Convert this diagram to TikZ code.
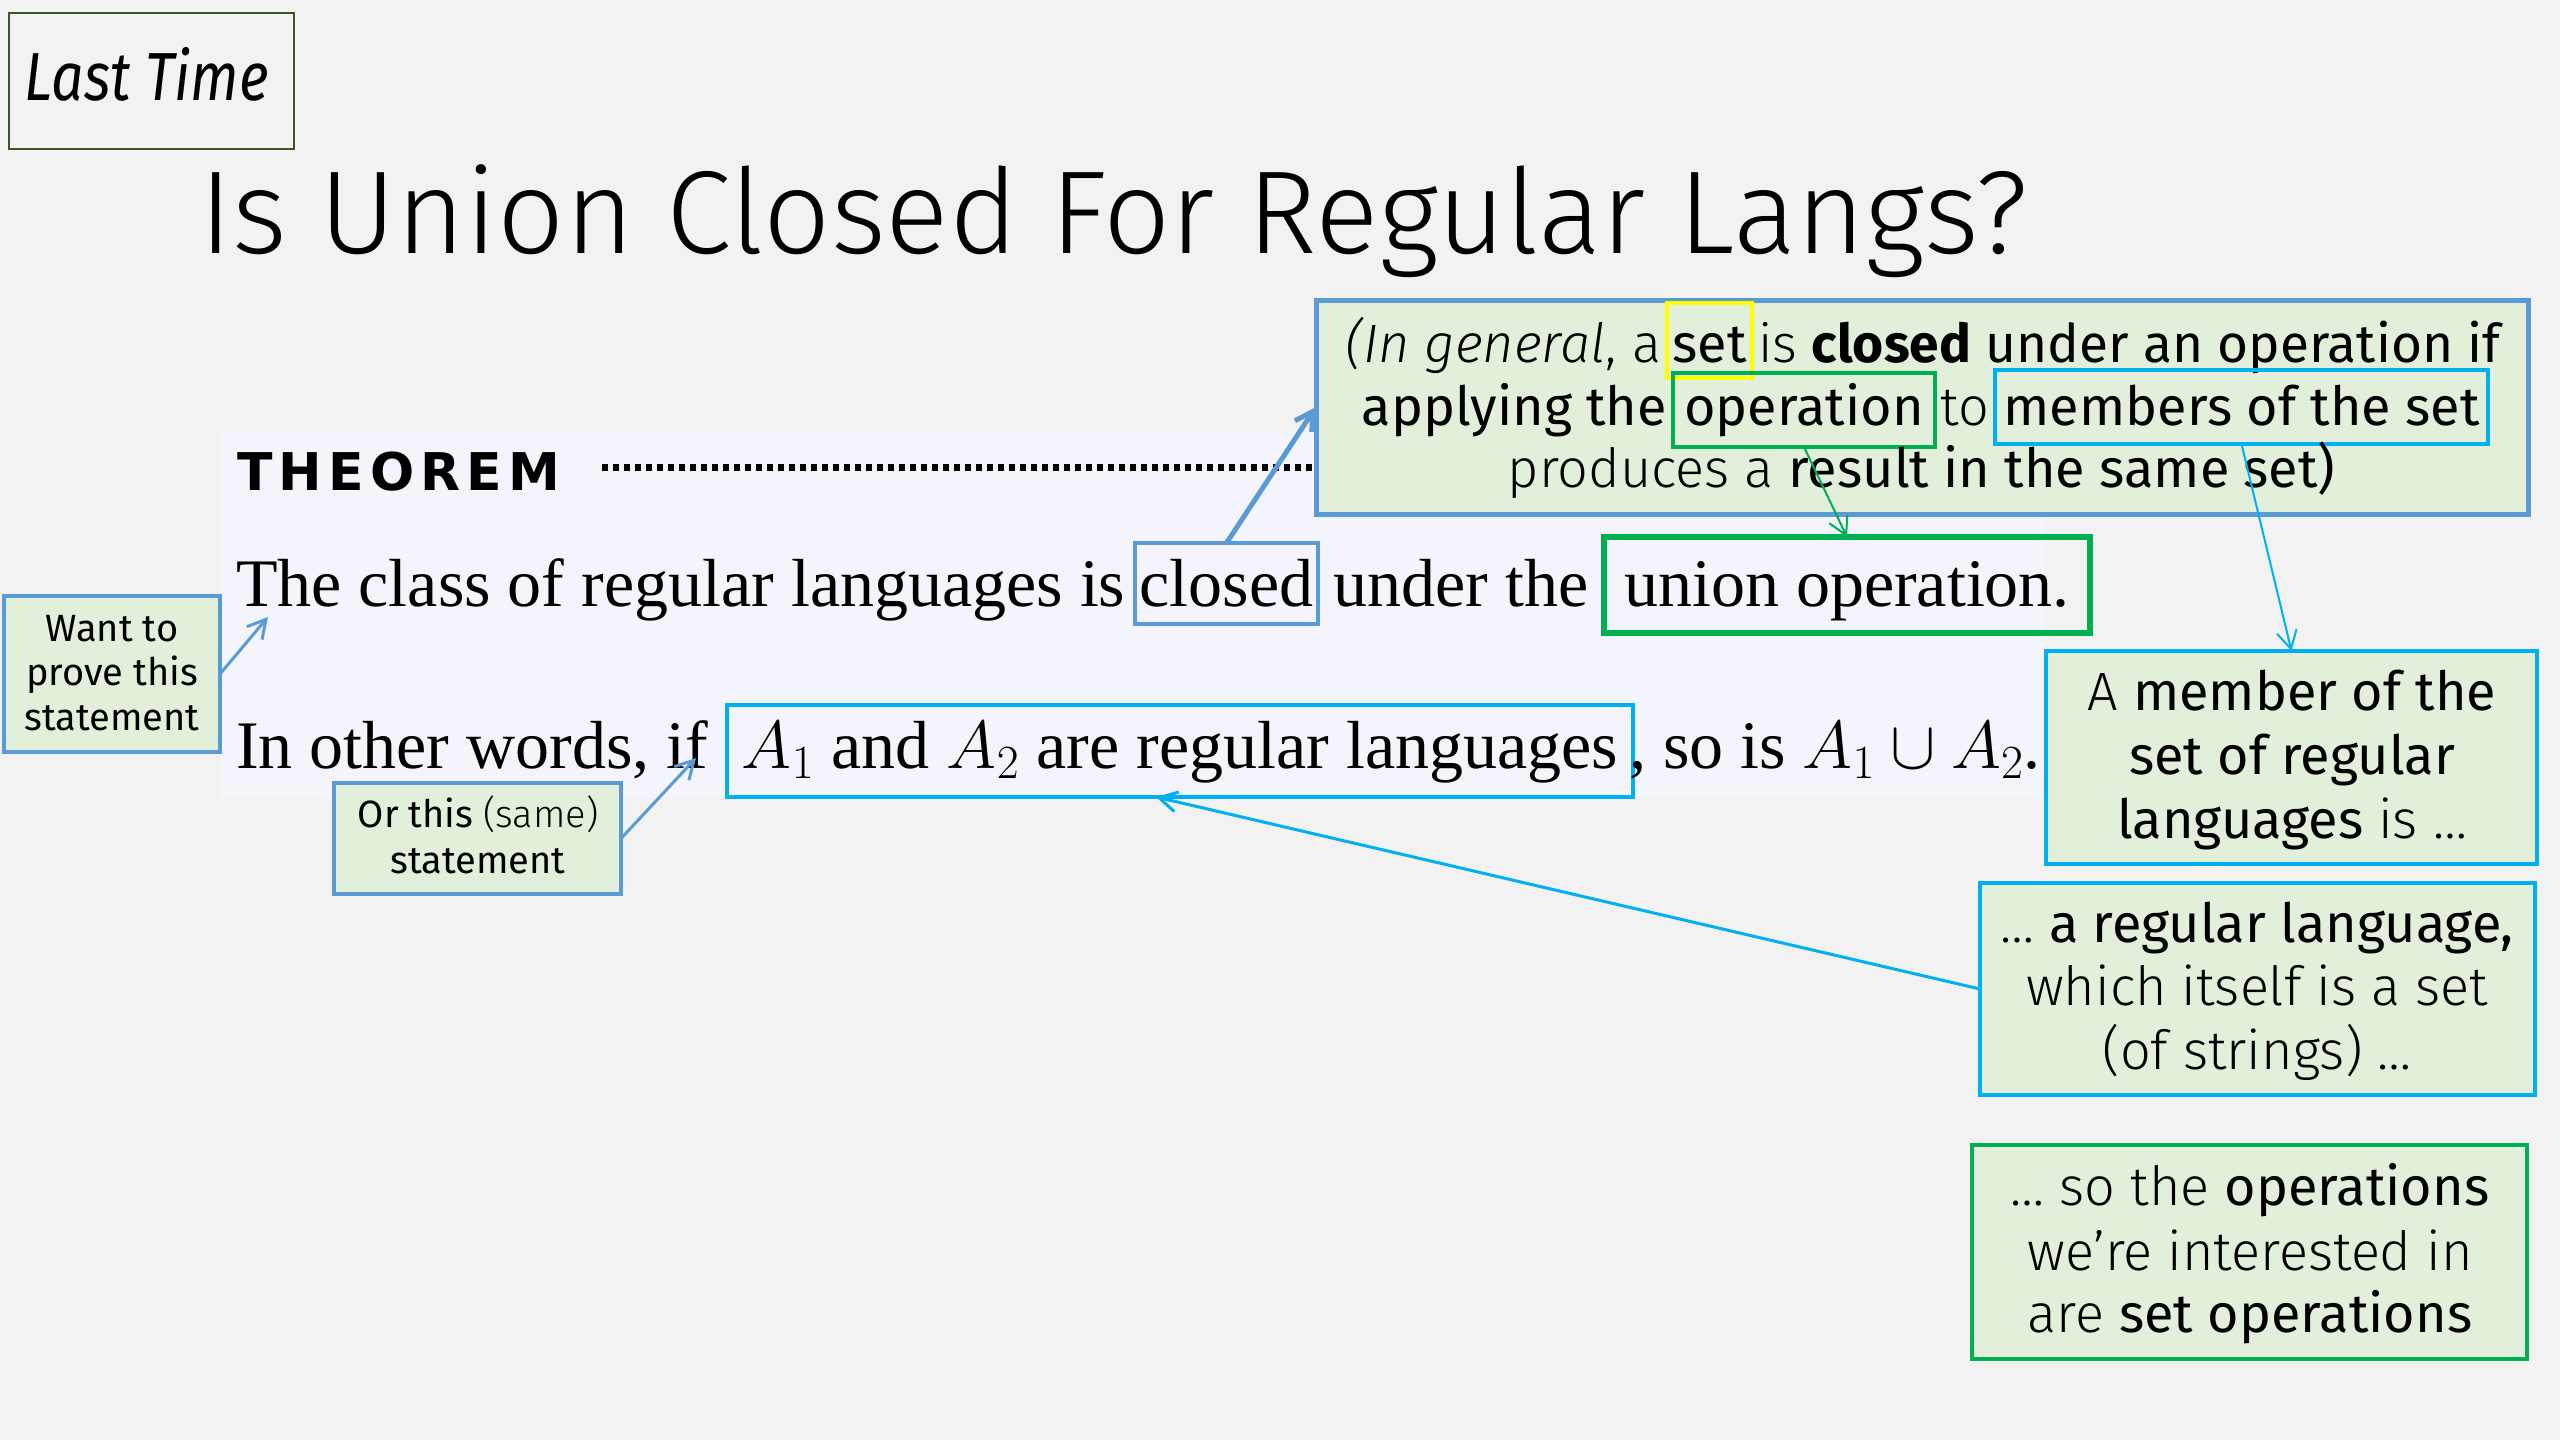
\RequirePackage{fix-cm}
\documentclass[tikz,border=0pt]{standalone}
\usepackage[no-math]{fontspec}
\usetikzlibrary{arrows.meta,calc}
\newfontfamily\fira{Fira Sans}
\IfFontExistsTF{FiraSans-Light}{%
  \IfFontExistsTF{FiraSans-LightItalic}%
    {\newfontfamily\firal{FiraSans-Light}[ItalicFont=FiraSans-LightItalic]}%
    {\newfontfamily\firal{FiraSans-Light}}%
}{\newfontfamily\firal{Fira Sans}}
\newfontfamily\serifx{Liberation Serif}
\newfontfamily\thmfont{DejaVu Sans}[LetterSpace=12]
\definecolor{bluebd}{HTML}{5B9BD5}
\definecolor{cyanbd}{HTML}{00B0F0}
\definecolor{greenbd}{HTML}{00B050}
\definecolor{yel}{HTML}{FFFF00}
\definecolor{calfill}{HTML}{E2EFDA}
\definecolor{panelc}{HTML}{F4F4FC}
\definecolor{bgc}{HTML}{F2F2F2}
\definecolor{ltbd}{HTML}{385723}
\newcommand{\thmtext}{\serifx\fontsize{34}{40}\selectfont}
\newcommand{\calA}{\fontsize{27}{32}\selectfont}
\newcommand{\calAr}{\fontsize{26.6}{32}\selectfont}
\newcommand{\calB}{\fontsize{27}{32}\selectfont}
\newcommand{\calS}{\fontsize{19}{22}\selectfont}
\begin{document}
\begin{tikzpicture}[x=0.5pt,y=-0.5pt,
  txt/.style={inner sep=0pt,outer sep=0pt},
  hl/.style={draw=#1,line width=2pt,inner sep=0pt,outer sep=0pt},
  callout/.style={draw=#1,line width=2pt,fill=calfill,inner sep=0pt,outer sep=0pt,anchor=north west},
  arr/.style={draw=#1,line width=1.5pt,-{Straight Barb[length=9pt,width=10pt]}}]
\fill[bgc] (0,0) rectangle (2560,1440);
\useasboundingbox (0,0) rectangle (2560,1440);

% Last Time
\node[draw=ltbd,line width=1pt,anchor=north west,minimum width=142.5pt,minimum height=68pt,inner sep=0pt] (last) at (8,12) {};
\node[txt,anchor=base west,font={\fira\itshape\fontsize{34}{40}\selectfont}] (lasttxt) at (25,100) {\scalebox{0.84}[1]{Last Time}};

% Title
\node[txt,anchor=base west,font={\firal\fontsize{59}{66}\selectfont}] (title) at (199,253) {Is Union Closed For Regular Langs?};

% Theorem panel
\node[fill=panelc,anchor=north west,minimum width=912pt,minimum height=182.5pt,inner sep=0pt] (panel) at (221,432) {};
\node[txt,anchor=base west,font={\thmfont\bfseries\fontsize{26}{30}\selectfont}] (thm) at (237,490) {THEOREM};
\draw[line width=3.5pt,dash pattern=on 3pt off 2.5pt] (602,467) -- (1316,467);

% Theorem line 1
\node[txt,anchor=base west,font=\thmtext] (t1a) at (236,606) {The class of regular languages is};
\node[hl=bluebd,minimum width=91.5pt,text height=31.5pt,text depth=9pt,anchor=base,font=\thmtext] (closed) at (1226.5,606) {closed};
\node[hl=greenbd,line width=3pt,minimum width=243pt,text height=34.5pt,text depth=13.5pt,anchor=base,font=\thmtext] (union) at (1847,606) {union operation.};
\node[txt,anchor=base,font=\thmtext] (t1b) at ($(closed.base east)!0.5!(union.base west)$) {under the};

% Theorem line 2
\node[txt,anchor=base west,font=\thmtext] (t2a) at (236,768) {In other words, if};
\node[hl=cyanbd,minimum width=453pt,text height=31.5pt,text depth=14.5pt,anchor=base,font=\thmtext] (abox) at (1180,768) {$A_1$ and $A_2$ are regular languages};
\node[txt,anchor=base west,font=\thmtext] (t2b) at ([xshift=-2pt]abox.base east) {, so is $A_1\cup A_2$.};

% Top callout
\node[callout=bluebd,line width=2.5pt,minimum width=606pt,minimum height=107pt] (c1) at (1316,300) {};
\node[hl=yel,minimum width=42.5pt,text height=29.5pt,text depth=8pt,anchor=base,font={\fira\calA}] (setbox) at (1709.5,362) {set};
\node[txt,anchor=base east,font={\firal\calA}] (c1a) at ([xshift=-3pt]setbox.base west) {{\itshape (In general}, a};
\node[txt,anchor=base west,font={\firal\calAr}] (c1b) at ([xshift=3pt]setbox.base east) {is {\fira\bfseries closed} {\fira under an operation if}};
\node[hl=greenbd,minimum width=131pt,text height=26pt,text depth=11pt,anchor=base,font={\fira\calA}] (opbox) at (1804,425) {operation};
\node[hl=cyanbd,minimum width=246.5pt,text height=27.5pt,text depth=9.5pt,anchor=base,font={\fira\calA}] (membox) at (2241.5,425) {members of the set};
\node[txt,anchor=base east,font={\fira\calA}] (c1c) at ([xshift=-3pt]opbox.base west) {applying the};
\node[txt,anchor=base,font={\firal\calA}] (c1d) at ($(opbox.base east)!0.5!(membox.base west)$) {to};
\node[txt,anchor=base,font={\firal\calA}] (c1e) at (1921.5,487) {produces a {\fira result in the same set)}};

% Member callout
\node[callout=cyanbd,minimum width=245.5pt,minimum height=106.5pt] (c2) at (2046,651) {};
\node[txt,anchor=base,font={\firal\calB}] (c2a) at (2292,710) {A {\fira member of the}};
\node[txt,anchor=base,font={\fira\calB}] (c2b) at (2292,774) {set of regular};
\node[txt,anchor=base,font={\firal\calB}] (c2c) at (2292,838) {{\fira languages} is …};

% Regular language callout
\node[callout=cyanbd,minimum width=277.5pt,minimum height=106pt] (c3) at (1980,883) {};
\node[txt,anchor=base,font={\firal\calB}] (c3a) at (2257,942) {… {\fira a regular language,}};
\node[txt,anchor=base,font={\firal\calB}] (c3b) at (2257,1005) {which itself is a set};
\node[txt,anchor=base,font={\firal\calB}] (c3c) at (2257,1069) {(of strings) …};

% Set operations callout
\node[callout=greenbd,minimum width=277.5pt,minimum height=107pt] (c4) at (1972,1145) {};
\node[txt,anchor=base,font={\firal\calB}] (c4a) at (2250,1205) {… so the {\fira operations}};
\node[txt,anchor=base,font={\firal\calB}] (c4b) at (2250,1270) {we’re interested in};
\node[txt,anchor=base,font={\firal\calB}] (c4c) at (2250,1332) {are {\fira set operations}};

% Want box
\node[callout=bluebd,minimum width=108pt,minimum height=78pt] (want) at (4,596) {};
\node[txt,anchor=base,font={\fira\calS}] (w1) at (112,641) {Want to};
\node[txt,anchor=base,font={\fira\calS}] (w2) at (112,685) {prove this};
\node[txt,anchor=base,font={\fira\calS}] (w3) at (112,730) {statement};

% Or box
\node[callout=bluebd,minimum width=143.5pt,minimum height=55.5pt] (orbox) at (334,783) {};
\node[txt,anchor=base,font={\fira\calS}] (o1) at (478,827) {Or this {\firal (same)}};
\node[txt,anchor=base,font={\fira\calS}] (o2) at (478,873) {statement};

% Connectors
\coordinate (wanttip) at (268,617);
\coordinate (ortip) at (696,758);
\draw[arr=bluebd] (want.east) -- (wanttip);
\draw[arr=bluebd] (orbox.east) -- (ortip);
\draw[arr=bluebd,line width=2.5pt] (closed.north) -- (c1.west);
\draw[arr=greenbd,line width=1pt] (opbox.south) -- (union.north);
\draw[arr=cyanbd,line width=1pt] (membox.south) -- (c2.north);
\draw[arr=cyanbd,line width=1.5pt] (c3.west) -- ([xshift=-12pt]abox.south);
\end{tikzpicture}
\end{document}
